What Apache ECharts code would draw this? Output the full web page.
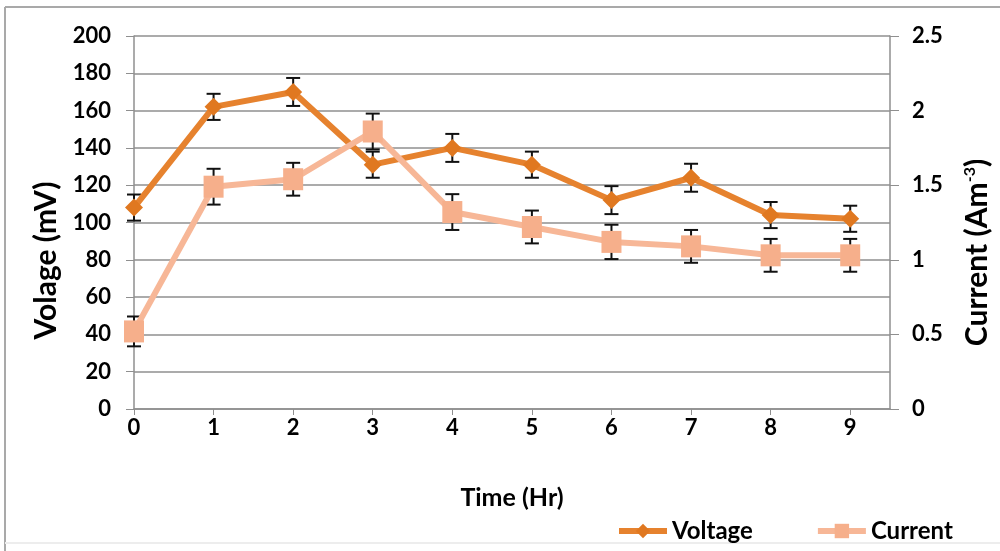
<!DOCTYPE html>
<html>
<head>
<meta charset="utf-8">
<script src="https://cdn.jsdelivr.net/npm/echarts@6/dist/echarts.min.js"></script>
<style>
  html, body { margin: 0; padding: 0; background: #fff; }
  #chart { width: 1000px; height: 551px; }
</style>
</head>
<body>
<div id="chart"></div>
<script>
// Time points (hours)
const hours = [0, 1, 2, 3, 4, 5, 6, 7, 8, 9];
// Voltage readings (mV) and their error margins
const voltage = [108, 162, 170, 131, 140, 131, 112, 124, 104, 102];
const voltageErr = [7, 7, 7.5, 7, 7.5, 7, 7.5, 7.5, 7, 7];
// Current readings (Am^-3) and their error margins
const current = [0.52, 1.49, 1.54, 1.86, 1.32, 1.22, 1.12, 1.09, 1.03, 1.03];
const currentErr = [0.1, 0.12, 0.11, 0.12, 0.12, 0.11, 0.115, 0.11, 0.11, 0.11];
// Axis tick labels
const xTicks = [0, 1, 2, 3, 4, 5, 6, 7, 8, 9];

const FONT = 'Lato';
const VOLT_COLOR = '#E6822E';
const VOLT_MARK = '#E07820';
const CURR_COLOR = '#F7B797';
const CURR_MARK = '#F6AF8B';
const GRID_COLOR = '#8f8f8f';

const chart = echarts.init(document.getElementById('chart'), null, { renderer: 'canvas' });

// Vertical error bar with caps, drawn in the series' own coordinate system
function errorBarRenderer(params, api) {
  const x = api.value(0);
  const y = api.value(1);
  const e = api.value(2);
  const top = api.coord([x, y + e]);
  const bot = api.coord([x, y - e]);
  const half = 7;
  const style = { stroke: '#111', lineWidth: 2 };
  return {
    type: 'group',
    children: [
      { type: 'line', shape: { x1: top[0], y1: top[1], x2: bot[0], y2: bot[1] }, style },
      { type: 'line', shape: { x1: top[0] - half, y1: top[1], x2: top[0] + half, y2: top[1] }, style },
      { type: 'line', shape: { x1: bot[0] - half, y1: bot[1], x2: bot[0] + half, y2: bot[1] }, style }
    ]
  };
}

const tickText = { fontFamily: FONT, fontWeight: 'bold', fontSize: 22, color: '#000' };
const nameText = { fontFamily: FONT, fontWeight: 'bold', fontSize: 30, color: '#000' };

chart.setOption({
  backgroundColor: '#fff',
  animation: false,
  grid: { left: 134, right: 107, top: 36, bottom: 142, containLabel: false },
  graphic: [
    { type: 'line', shape: { x1: 5, y1: 7, x2: 5, y2: 551 }, style: { stroke: '#a9a9a9', lineWidth: 2 }, silent: true },
    { type: 'line', shape: { x1: 5, y1: 7, x2: 1000, y2: 7 }, style: { stroke: '#a9a9a9', lineWidth: 2 }, silent: true },
    { type: 'line', shape: { x1: 5, y1: 543, x2: 1000, y2: 543 }, style: { stroke: '#ededed', lineWidth: 2 }, silent: true }
  ],
  legend: {
    left: 611,
    top: 514,
    itemWidth: 48,
    itemHeight: 18,
    itemGap: 62,
    lineStyle: { width: 6 },
    textStyle: { fontFamily: FONT, fontWeight: 'bold', fontSize: 24, color: '#000' },
    data: ['Voltage', 'Current']
  },
  xAxis: {
    type: 'value',
    min: 0,
    max: 9.5,
    interval: 1,
    name: 'Time (Hr)',
    nameLocation: 'middle',
    nameGap: 76,
    nameTextStyle: Object.assign({}, nameText, { fontSize: 25 }),
    axisLine: { show: true, onZero: false, lineStyle: { color: GRID_COLOR, width: 1.5 } },
    axisTick: { show: true, length: 6, customValues: xTicks, lineStyle: { color: GRID_COLOR } },
    axisLabel: Object.assign({ margin: 8, customValues: xTicks }, tickText),
    splitLine: { show: false }
  },
  yAxis: [
    {
      type: 'value',
      min: 0,
      max: 200,
      interval: 20,
      position: 'left',
      name: 'Volage (mV)',
      nameLocation: 'middle',
      nameGap: 63,
      nameRotate: 90,
      nameTextStyle: Object.assign({ padding: [0, 76, 0, 0] }, nameText),
      axisLine: { show: true, lineStyle: { color: GRID_COLOR, width: 1.5 } },
      axisTick: { show: true, length: 8, lineStyle: { color: GRID_COLOR } },
      axisLabel: Object.assign({ margin: 23 }, tickText),
      splitLine: { show: true, lineStyle: { color: GRID_COLOR, width: 1.5 } }
    },
    {
      type: 'value',
      min: 0,
      max: 2.5,
      interval: 0.5,
      position: 'right',
      name: '{a|Current (Am}{s|-3}{a|)}',
      nameLocation: 'middle',
      nameGap: 72,
      nameRotate: 90,
      nameTextStyle: {
        padding: [0, 60, 0, 0],
        rich: {
          a: nameText,
          s: { fontFamily: FONT, fontWeight: 'bold', fontSize: 16, color: '#000', verticalAlign: 'top', padding: [0, 0, 14, 0] }
        }
      },
      axisLine: { show: true, lineStyle: { color: GRID_COLOR, width: 1.5 } },
      axisTick: { show: true, length: 9, lineStyle: { color: GRID_COLOR } },
      axisLabel: Object.assign({ margin: 22 }, tickText),
      splitLine: { show: false }
    }
  ],
  series: [
    {
      name: 'Voltage',
      type: 'line',
      yAxisIndex: 0,
      data: hours.map((h, i) => [h, voltage[i]]),
      symbol: 'diamond',
      symbolSize: 18,
      lineStyle: { color: VOLT_COLOR, width: 6 },
      itemStyle: { color: VOLT_MARK, borderWidth: 0 },
      z: 3
    },
    {
      name: 'Current',
      type: 'line',
      yAxisIndex: 1,
      data: hours.map((h, i) => [h, current[i]]),
      symbol: 'rect',
      symbolSize: [20, 22],
      lineStyle: { color: CURR_COLOR, width: 6 },
      itemStyle: { color: CURR_MARK, borderWidth: 0 },
      z: 4
    },
    {
      name: 'Voltage error',
      type: 'custom',
      yAxisIndex: 0,
      renderItem: errorBarRenderer,
      data: hours.map((h, i) => [h, voltage[i], voltageErr[i]]),
      encode: { x: 0, y: 1 },
      silent: true,
      z: 2
    },
    {
      name: 'Current error',
      type: 'custom',
      yAxisIndex: 1,
      renderItem: errorBarRenderer,
      data: hours.map((h, i) => [h, current[i], currentErr[i]]),
      encode: { x: 0, y: 1 },
      silent: true,
      z: 2
    }
  ]
});
</script>
</body>
</html>
